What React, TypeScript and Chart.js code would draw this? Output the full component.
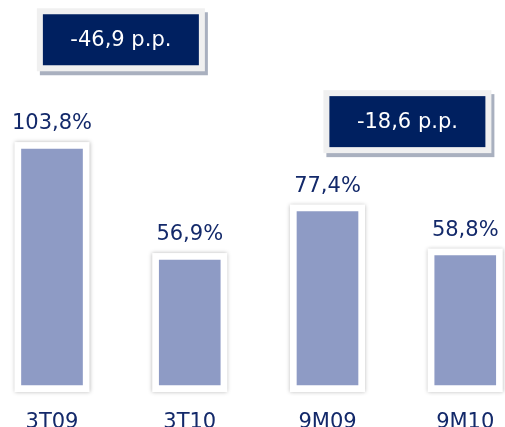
import React, { useEffect, useRef } from "react";
import { Chart, registerables } from "chart.js";

Chart.register(...registerables);

// ---- data ----
const categories = ["3T09", "3T10", "9M09", "9M10"];
const ratioValues = [103.8, 56.9, 77.4, 58.8];
const valueLabels = ["103,8%", "56,9%", "77,4%", "58,8%"];

// ---- delta call-outs ----
const deltaLabels = ["-46,9 p.p.", "-18,6 p.p."];
const deltaAnchorX = [0.5, 2.58];
const deltaAnchorY = [150, 115.4];

const FONT = "'DejaVu Sans', Verdana, sans-serif";
const TEXT_COLOR = "#13296a";
const BOX_COLOR = "#002060";
const BAR_COLOR = "#8e9bc5";
const VALUE_BASE = 4.1;

const decorPlugin = {
  id: "decor",
  beforeDatasetsDraw(chart: any) {
    const ctx = chart.ctx;
    const meta = chart.getDatasetMeta(0);
    ctx.save();
    meta.data.forEach((bar: any) => {
      const { x, y, base, width } = bar.getProps(["x", "y", "base", "width"], true);
      const pad = 7;
      ctx.shadowColor = "rgba(0,0,0,0.28)";
      ctx.shadowBlur = 4;
      ctx.shadowOffsetX = 0;
      ctx.shadowOffsetY = 0;
      ctx.fillStyle = "#ffffff";
      ctx.fillRect(x - width / 2 - pad, y - pad, width + 2 * pad, base - y + 2 * pad);
    });
    ctx.restore();
  },
  afterDatasetsDraw(chart: any) {
    const ctx = chart.ctx;
    const meta = chart.getDatasetMeta(0);
    ctx.save();
    ctx.font = `21px ${FONT}`;
    ctx.fillStyle = TEXT_COLOR;
    ctx.textAlign = "center";
    ctx.textBaseline = "alphabetic";
    meta.data.forEach((bar: any, i: number) => {
      const { x, y } = bar.getProps(["x", "y"], true);
      ctx.fillText(valueLabels[i], x, y - 20);
    });
    ctx.restore();
  },
  afterDraw(chart: any) {
    const ctx = chart.ctx;
    const xs = chart.scales.x;
    const ys = chart.scales.y;
    ctx.save();
    deltaLabels.forEach((label, i) => {
      const cx = xs.getPixelForValue(deltaAnchorX[i]);
      const cy = ys.getPixelForValue(deltaAnchorY[i]);
      const ow = 168, oh = 63, iw = 156, ih = 51;
      ctx.fillStyle = "#a9b0bf";
      ctx.fillRect(cx - ow / 2 + 3, cy - oh / 2 + 4, ow, oh);
      ctx.fillStyle = "#f0f0f0";
      ctx.fillRect(cx - ow / 2, cy - oh / 2, ow, oh);
      ctx.fillStyle = BOX_COLOR;
      ctx.fillRect(cx - iw / 2, cy - ih / 2, iw, ih);
      ctx.font = `21px ${FONT}`;
      ctx.fillStyle = "#ffffff";
      ctx.textAlign = "center";
      ctx.textBaseline = "middle";
      ctx.fillText(label, cx, cy + 1);
    });
    ctx.restore();
  },
};

export default function App() {
  const canvasRef = useRef<HTMLCanvasElement | null>(null);

  useEffect(() => {
    document.body.style.margin = "0";
    const canvas = canvasRef.current;
    if (!canvas) return;
    const chart = new Chart(canvas, {
      type: "bar",
      data: {
        datasets: [
          {
            data: ratioValues.map((v, i) => ({ x: i, y: v })),
            backgroundColor: BAR_COLOR,
            borderWidth: 0,
            barThickness: 61,
            base: VALUE_BASE,
          },
        ],
      },
      options: {
        animation: false,
        responsive: false,
        maintainAspectRatio: false,
        layout: { padding: { top: 0, left: 0, right: 0, bottom: -10 } },
        plugins: {
          legend: { display: false },
          tooltip: { enabled: false },
        },
        scales: {
          x: {
            type: "linear",
            offset: false,
            min: -0.3775,
            max: 3.2886,
            grid: { display: false, drawTicks: false },
            border: { display: false },
            ticks: {
              stepSize: 1,
              includeBounds: false,
              autoSkip: false,
              maxRotation: 0,
              padding: 0,
              color: TEXT_COLOR,
              font: { family: FONT, size: 21, lineHeight: 1.333 },
              callback: (value: any) =>
                Number.isInteger(value) && categories[value] !== undefined ? categories[value] : "",
            },
          },
          y: {
            display: false,
            min: -6.04,
            max: 166.8,
          },
        },
      },
      plugins: [decorPlugin],
    });
    return () => chart.destroy();
  }, []);

  return (
    <div style={{ width: 505, height: 427, background: "#ffffff" }}>
      <canvas ref={canvasRef} width={505} height={427} style={{ display: "block" }} />
    </div>
  );
}
